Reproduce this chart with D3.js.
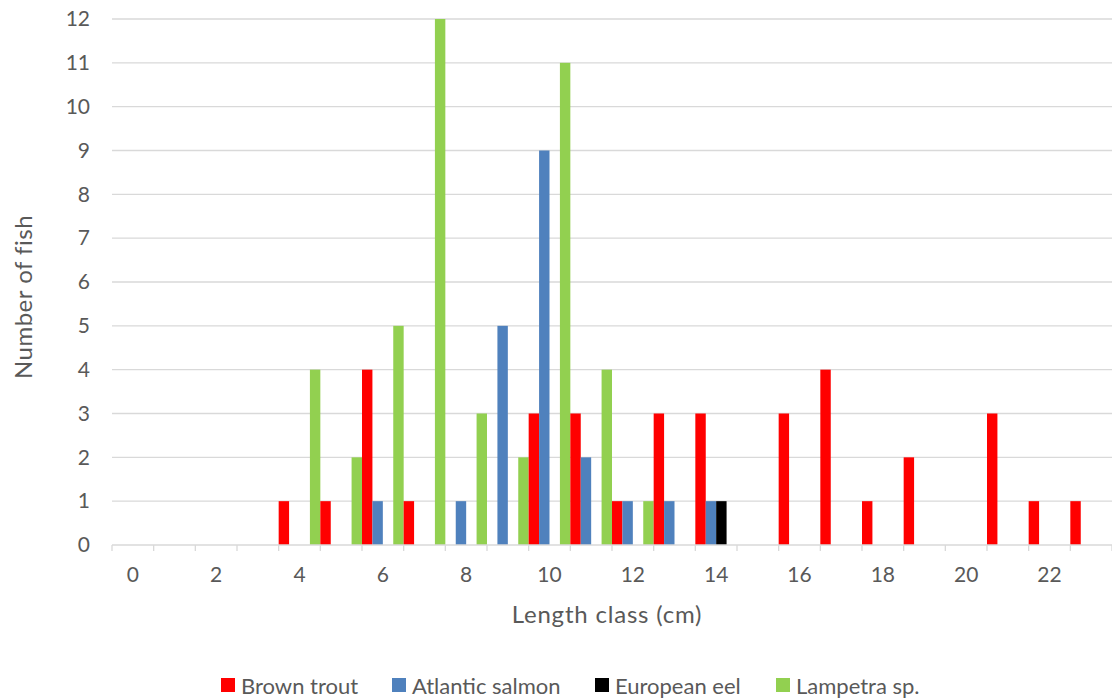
<!DOCTYPE html>
<html>
<head>
<meta charset="utf-8">
<script src="https://cdn.jsdelivr.net/npm/d3@7"></script>
<style>
  body { margin: 0; background: #fff; }
  text { font-family: Lato, "Open Sans", sans-serif; fill: #595959; }
</style>
</head>
<body>
<div id="chart"></div>
<script>
// Length classes (cm) and counts per species
var lengthClasses = d3.range(0, 24);
var tickLabels = [0, 2, 4, 6, 8, 10, 12, 14, 16, 18, 20, 22];
var yTicks = d3.range(0, 13);

var speciesNames = ["Brown trout", "Atlantic salmon", "European eel", "Lampetra sp."];
var speciesColors = ["#ff0000", "#4f81bd", "#000000", "#92d050"];

var brownTrout     = [0,0,0,0,1,1,4,1,0,0,3,3,1,3,3,0,3,4,1,2,0,3,1,1];
var atlanticSalmon = [0,0,0,0,0,0,1,0,1,5,9,2,1,1,1,0,0,0,0,0,0,0,0,0];
var europeanEel    = [0,0,0,0,0,0,0,0,0,0,0,0,0,0,1,0,0,0,0,0,0,0,0,0];
var lampetra       = [0,0,0,0,4,2,5,12,3,2,11,4,1,0,0,0,0,0,0,0,0,0,0,0];

var seriesValues = [brownTrout, atlanticSalmon, europeanEel, lampetra];

//SVG size and margins
var svgWidth = 1112;
var svgHeight = 700;
var margin = { top: 19, right: 0, bottom: 155, left: 112 };
var width = svgWidth - margin.left - margin.right;
var height = svgHeight - margin.top - margin.bottom;

var svg = d3.select("#chart")
  .append("svg")
  .attr("width", svgWidth)
  .attr("height", svgHeight);

var chartGroup = svg.append("g")
  .attr("transform", `translate(${margin.left}, ${margin.top})`);

// Scales
var x0 = d3.scaleBand()
  .domain(lengthClasses)
  .range([0, width])
  .padding(0);

var x1 = d3.scaleBand()
  .domain(speciesNames)
  .range([0, x0.bandwidth()])
  .padding(0);

var y = d3.scaleLinear()
  .domain([0, 12])
  .range([height, 0]);

// Gridlines
chartGroup.append("g")
  .selectAll("line")
  .data(yTicks.filter(d => d > 0))
  .enter()
  .append("line")
  .attr("x1", 0)
  .attr("x2", width)
  .attr("y1", d => y(d))
  .attr("y2", d => y(d))
  .attr("stroke", "#d9d9d9")
  .attr("stroke-width", 1.3);

// Y axis labels
var leftAxis = d3.axisLeft(y)
  .tickValues(yTicks)
  .tickSize(0)
  .tickPadding(22);

var yAxis = chartGroup.append("g").call(leftAxis);
yAxis.select(".domain").remove();
yAxis.selectAll("text")
  .style("font-size", "21px")
  .style("font-family", "Lato")
  .attr("fill", "#595959");

// Bars
var groups = chartGroup.append("g")
  .selectAll("g")
  .data(lengthClasses)
  .enter()
  .append("g")
  .attr("transform", d => `translate(${x0(d)}, 0)`);

groups.selectAll("rect")
  .data((d, i) => speciesNames.map((name, s) => ({ name: name, value: seriesValues[s][i], color: speciesColors[s] })))
  .enter()
  .filter(d => d.value > 0)
  .append("rect")
  .attr("x", d => x1(d.name))
  .attr("y", d => y(d.value))
  .attr("width", x1.bandwidth())
  .attr("height", d => height - y(d.value))
  .attr("fill", d => d.color);

// X axis: line, boundary ticks and labels every 2 cm
var xAxisGroup = chartGroup.append("g")
  .attr("transform", `translate(0, ${height})`);

xAxisGroup.append("line")
  .attr("x1", 0)
  .attr("x2", width)
  .attr("stroke", "#d9d9d9")
  .attr("stroke-width", 1.3);

xAxisGroup.selectAll(".bound")
  .data(lengthClasses.concat([24]))
  .enter()
  .append("line")
  .attr("class", "bound")
  .attr("x1", d => d < 24 ? x0(d) : width)
  .attr("x2", d => d < 24 ? x0(d) : width)
  .attr("y1", 0)
  .attr("y2", 6)
  .attr("stroke", "#d9d9d9")
  .attr("stroke-width", 1.3);

var bottomAxis = d3.axisBottom(x0)
  .tickValues(tickLabels)
  .tickSize(0)
  .tickPadding(22);

var xAxis = xAxisGroup.append("g").call(bottomAxis);
xAxis.select(".domain").remove();
xAxis.selectAll("text")
  .style("font-size", "21px")
  .style("font-family", "Lato")
  .attr("fill", "#595959");

// Axis titles
svg.append("text")
  .attr("transform", "translate(22, 297) rotate(-90)")
  .attr("text-anchor", "middle")
  .attr("dominant-baseline", "central")
  .style("font-size", "24px")
  .style("letter-spacing", "0.5px")
  .text("Number of fish");

svg.append("text")
  .attr("x", 607)
  .attr("y", 623)
  .attr("text-anchor", "middle")
  .style("font-size", "24px")
  .style("letter-spacing", "0.8px")
  .text("Length class (cm)");

// Legend (entry offsets as laid out in the original)
var legendOffsets = [0, 171, 374, 555];
var legend = svg.append("g").attr("transform", "translate(221, 685)");

var items = legend.selectAll("g")
  .data(speciesNames)
  .enter()
  .append("g")
  .attr("transform", (d, i) => `translate(${legendOffsets[i]}, 0)`);

items.append("rect")
  .attr("x", 0)
  .attr("y", -7)
  .attr("width", 14)
  .attr("height", 14)
  .attr("fill", (d, i) => speciesColors[i]);

items.append("text")
  .attr("x", 20)
  .attr("y", 0)
  .attr("dominant-baseline", "central")
  .style("font-size", "22px")
  .text(d => d);
</script>
</body>
</html>
